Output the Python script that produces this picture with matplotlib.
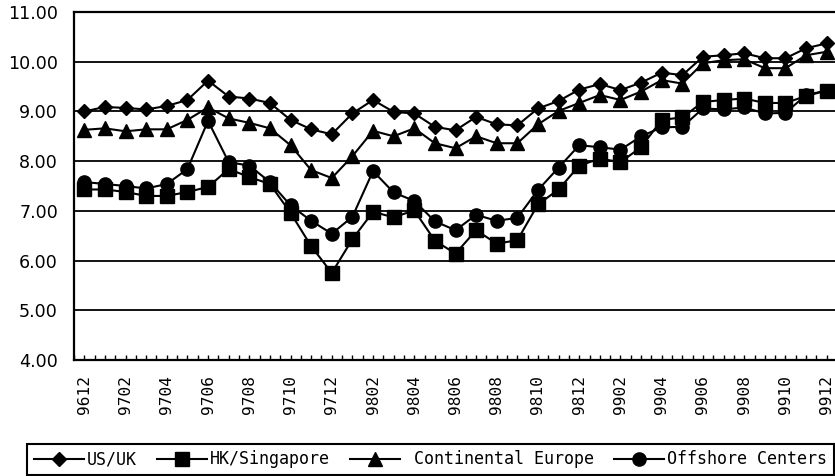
import matplotlib
matplotlib.use("Agg")
import matplotlib.pyplot as plt
from matplotlib.ticker import FixedLocator, MultipleLocator


periods = [
    "9612", "9701", "9702", "9703", "9704", "9705", "9706", "9707", "9708",
    "9709", "9710", "9711", "9712", "9801", "9802", "9803", "9804", "9805",
    "9806", "9807", "9808", "9809", "9810", "9811", "9812", "9901", "9902",
    "9903", "9904", "9905", "9906", "9907", "9908", "9909", "9910", "9911",
    "9912",
]

us_uk = [
    9.00, 9.09, 9.07, 9.04, 9.11, 9.23, 9.62, 9.30, 9.26, 9.17, 8.83, 8.64,
    8.54, 8.96, 9.23, 8.99, 8.96, 8.69, 8.62, 8.89, 8.74, 8.72, 9.06, 9.21,
    9.44, 9.55, 9.43, 9.58, 9.78, 9.73, 10.10, 10.13, 10.17, 10.07, 10.07,
    10.27, 10.37,
]
hk_singapore = [
    7.43, 7.43, 7.38, 7.30, 7.30, 7.38, 7.48, 7.84, 7.68, 7.54, 6.96, 6.29,
    5.75, 6.43, 6.98, 6.87, 7.01, 6.40, 6.14, 6.61, 6.34, 6.41, 7.13, 7.43,
    7.91, 8.05, 7.98, 8.28, 8.83, 8.88, 9.19, 9.23, 9.26, 9.17, 9.17, 9.31,
    9.42,
]
continental_europe = [
    8.63, 8.66, 8.60, 8.64, 8.64, 8.83, 9.08, 8.86, 8.77, 8.66, 8.32, 7.82,
    7.66, 8.10, 8.61, 8.50, 8.66, 8.36, 8.26, 8.50, 8.36, 8.36, 8.74, 9.01,
    9.17, 9.33, 9.23, 9.40, 9.63, 9.56, 9.97, 10.03, 10.05, 9.87, 9.87,
    10.13, 10.20,
]
offshore_centers = [
    7.58, 7.54, 7.50, 7.45, 7.54, 7.84, 8.81, 7.98, 7.91, 7.58, 7.11, 6.80,
    6.54, 6.88, 7.80, 7.37, 7.20, 6.79, 6.61, 6.92, 6.80, 6.86, 7.42, 7.87,
    8.32, 8.28, 8.23, 8.50, 8.68, 8.69, 9.06, 9.04, 9.08, 8.96, 8.97, 9.33,
    9.42,
]

series = [
    ("US/UK", us_uk, "D", 7),
    ("HK/Singapore", hk_singapore, "s", 9.5),
    (" Continental Europe", continental_europe, "^", 10),
    ("Offshore Centers", offshore_centers, "o", 9.5),
]

y_ticks = [4, 5, 6, 7, 8, 9, 10, 11]

mono = "DejaVu Sans Mono"

fig = plt.figure(figsize=(8.35, 4.76), dpi=100)
ax = fig.add_axes([74 / 835, 1 - 360 / 476, 763 / 835, 348 / 476])

x = list(range(len(periods)))
for label, values, marker, size in series:
    ax.plot(x, values, color="black", linewidth=1.5, marker=marker,
            markersize=size, markerfacecolor="black", markeredgecolor="black",
            label=label, clip_on=False)

ax.set_xlim(-0.5, len(periods) - 0.5)
ax.set_ylim(4, 11)
ax.set_yticks(y_ticks)
ax.set_yticklabels([f"{v:.2f}" for v in y_ticks], fontsize=12.6,
                   family="DejaVu Sans")
ax.tick_params(axis="y", length=0, pad=11.5)
ax.grid(axis="y", color="black", linewidth=1.3)
ax.set_axisbelow(True)

ax.xaxis.set_major_locator(FixedLocator(x[::2]))
ax.set_xticklabels(periods[::2], rotation=90, fontsize=11.6, family=mono)
ax.xaxis.set_minor_locator(MultipleLocator(0.5))
ax.tick_params(axis="x", which="both", direction="in", length=3.5,
               width=1.0, pad=10.5)

for spine in ax.spines.values():
    spine.set_linewidth(1.6)
    spine.set_color("black")

leg = fig.legend(loc="lower left", bbox_to_anchor=(27 / 835, 1 / 476),
                 borderaxespad=0, ncol=4, prop={"family": mono, "size": 12},
                 handlelength=3.0, handletextpad=0.2, columnspacing=1.2,
                 borderpad=0.4, markerscale=1.0, fancybox=False,
                 framealpha=1, edgecolor="black")
leg.get_frame().set_linewidth(1.5)

fig.savefig("out.png", dpi=100)
